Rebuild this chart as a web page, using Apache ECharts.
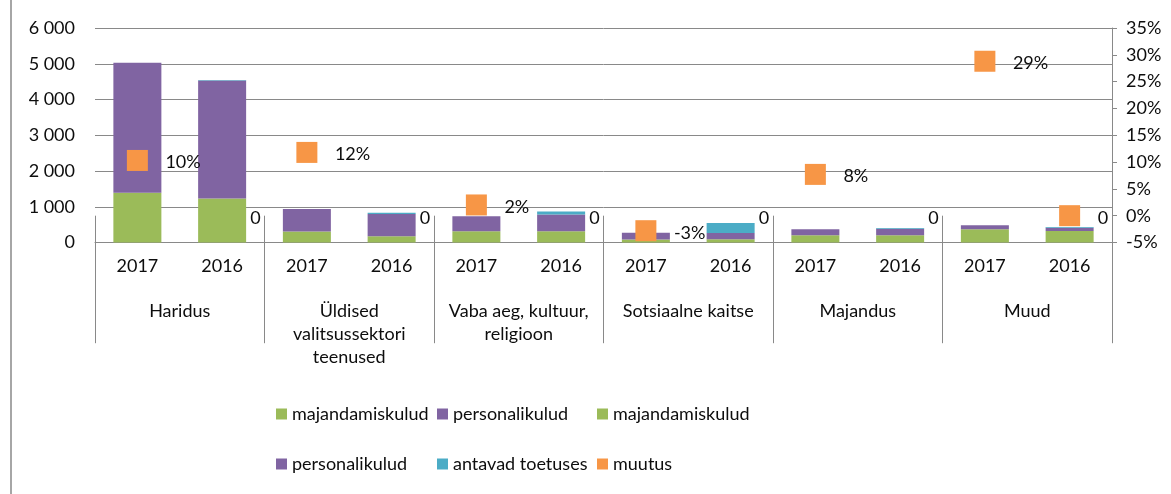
<!DOCTYPE html>
<html>
<head>
<meta charset="utf-8">
<script src="https://cdn.jsdelivr.net/npm/echarts@6/dist/echarts.min.js"></script>
<style>
html,body{margin:0;padding:0;background:#fff;}
#c{width:1171px;height:494px;}
</style>
</head>
<body>
<div id="c"></div>
<script>
// ---- data ----
const groups = ['Haridus', 'Üldised\nvalitsussektori\nteenused', 'Vaba aeg, kultuur,\nreligioon', 'Sotsiaalne kaitse', 'Majandus', 'Muud'];
const years = ['2017', '2016'];
const maj2017 = [1390, 310, 315, 85, 205, 372];
const pers2017 = [3640, 630, 420, 185, 168, 112];
const maj2016 = [1228, 175, 315, 90, 205, 325];
const pers2016 = [3300, 625, 465, 176, 177, 85];
const toet2016 = [20, 30, 90, 280, 25, 25];
const muutus2017 = [10.3, 11.8, 2.0, -2.8, 7.7, 28.8];
const muutus2016 = [0, 0, 0, 0, 0, 0];
const leftTicks = [0, 1000, 2000, 3000, 4000, 5000, 6000];
const rightTicks = [-5, 0, 5, 10, 15, 20, 25, 30, 35];

// ---- build ----
const FONT = 'Lato';
const TXT = '#0d0d0d';
const GRAY = '#898989';
const slots = [];
groups.forEach(() => years.forEach(y => slots.push(y)));
function onYear(arr, yi) {
  const out = [];
  groups.forEach((g, gi) => years.forEach((y, i) => out.push(i === yi ? arr[gi] : '-')));
  return out;
}
const muutusData = [];
groups.forEach((g, gi) => {
  [muutus2017[gi], muutus2016[gi]].forEach((v, yi) => {
    const hidden = (yi === 1 && gi < groups.length - 1);
    muutusData.push({
      value: v,
      symbolSize: hidden ? 0 : 21,
      label: { distance: hidden ? 28 : 17.5 }
    });
  });
});
const C_GREEN = '#9BBB59', C_PURPLE = '#8064A2', C_TEAL = '#4BACC6', C_ORANGE = '#F79646';

const legendPos = [
  ['majandamiskulud', 276, 0], ['personalikulud', 437, 0], ['majandamiskulud ', 597, 0],
  ['personalikulud ', 276, 1], ['antavad toetuses', 437, 1], ['muutus', 597, 1]
];

const option = {
  animation: false,
  grid: { left: 95, right: 59, top: 28, bottom: 251.5, containLabel: false },
  legend: legendPos.map(([n, x, r]) => ({
    data: [n], left: x, top: r === 0 ? 405 : 455, padding: 0,
    icon: 'rect', itemWidth: 11, itemHeight: 11, itemGap: 0,
    selectedMode: false,
    textStyle: { fontFamily: FONT, fontSize: 18, color: TXT }
  })),
  xAxis: [
    {
      type: 'category', data: slots, position: 'bottom',
      axisLine: { show: true, lineStyle: { color: GRAY, width: 1 } },
      axisTick: { show: false },
      axisLabel: { fontFamily: FONT, fontSize: 18, color: TXT, margin: 15, interval: 0 }
    },
    {
      type: 'category', data: groups, position: 'bottom',
      axisLine: { show: false },
      axisTick: { show: true, length: 127.5, interval: 0, lineStyle: { color: GRAY, width: 1 } },
      axisLabel: { fontFamily: FONT, fontSize: 18, color: TXT, margin: 57, lineHeight: 23, interval: 0 }
    }
  ],
  yAxis: [
    {
      type: 'value', min: leftTicks[0], max: leftTicks[leftTicks.length - 1], interval: 1000,
      axisLine: { show: false }, axisTick: { show: false },
      splitLine: { show: true, lineStyle: { color: GRAY, width: 1 } },
      axisLabel: {
        fontFamily: FONT, fontSize: 18, color: TXT, margin: 20,
        formatter: v => String(v).replace(/\B(?=(\d{3})+(?!\d))/g, ' ')
      }
    },
    {
      type: 'value', position: 'right', min: rightTicks[0], max: rightTicks[rightTicks.length - 1], interval: 5,
      axisLine: { show: true, lineStyle: { color: GRAY, width: 1 } },
      axisTick: { show: true, length: 5, lineStyle: { color: GRAY } },
      splitLine: { show: false },
      axisLabel: { fontFamily: FONT, fontSize: 18, color: TXT, margin: 14, formatter: '{value}%' }
    }
  ],
  series: [
    { name: 'majandamiskulud', type: 'bar', stack: 's', barWidth: 48, data: onYear(maj2017, 0), itemStyle: { color: C_GREEN } },
    { name: 'personalikulud', type: 'bar', stack: 's', data: onYear(pers2017, 0), itemStyle: { color: C_PURPLE } },
    { name: 'majandamiskulud ', type: 'bar', stack: 's', data: onYear(maj2016, 1), itemStyle: { color: C_GREEN } },
    { name: 'personalikulud ', type: 'bar', stack: 's', data: onYear(pers2016, 1), itemStyle: { color: C_PURPLE } },
    { name: 'antavad toetuses', type: 'bar', stack: 's', data: onYear(toet2016, 1), itemStyle: { color: C_TEAL } },
    {
      name: 'muutus', type: 'scatter', yAxisIndex: 1, symbol: 'rect', z: 5,
      itemStyle: { color: C_ORANGE, opacity: 1 },
      label: {
        show: true, position: 'right', fontFamily: FONT, fontSize: 18, color: TXT, offset: [0, 2],
        formatter: p => p.value === 0 ? '0' : Math.round(p.value) + '%'
      },
      data: muutusData
    }
  ],
  graphic: [
    { type: 'line', shape: { x1: 11, y1: 0, x2: 11, y2: 494 }, style: { stroke: GRAY, lineWidth: 1.5 } }
  ]
};
const chart = echarts.init(document.getElementById('c'), null, { renderer: 'canvas' });
chart.setOption(option);
</script>
</body>
</html>
